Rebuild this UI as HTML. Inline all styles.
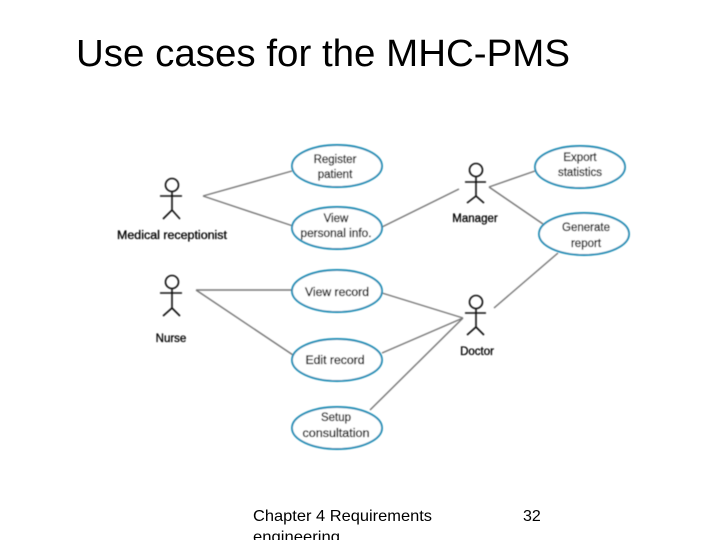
<!DOCTYPE html>
<html><head><meta charset="utf-8">
<style>html,body{margin:0;padding:0;background:#fff}svg{display:block}text{font-family:"Liberation Sans",sans-serif}</style>
</head><body>
<svg width="720" height="540" viewBox="0 0 720 540" xmlns="http://www.w3.org/2000/svg">
<defs><filter id="b" x="-5%" y="-5%" width="110%" height="110%"><feGaussianBlur stdDeviation="0.45"/></filter></defs>
<rect width="720" height="540" fill="#fff"/>
<text x="76" y="66" font-size="38" fill="#000" textLength="494" lengthAdjust="spacingAndGlyphs">Use cases for the MHC-PMS</text>
<g filter="url(#b)">
<g stroke="#777" stroke-width="1.4" fill="none">
<path d="M203 196L292 171M203 196L293 226M196 290L292 290M196 290L293 355M382 227L459 189M489 187L535 171M489 187L543 224M494 308L558 253M382 293L463 318M382 353L463 318M370 410L463 318"/>
</g>
<g stroke="#1c8db5" stroke-width="1.9" fill="#fff">
<ellipse cx="337" cy="166" rx="45" ry="21"/>
<ellipse cx="337" cy="228" rx="45" ry="21"/>
<ellipse cx="337" cy="291" rx="45" ry="21"/>
<ellipse cx="337" cy="360" rx="45" ry="21"/>
<ellipse cx="337" cy="428" rx="45" ry="21"/>
<ellipse cx="580" cy="167" rx="45" ry="21"/>
<ellipse cx="584" cy="234" rx="45" ry="21"/>
</g>
<g stroke="#111" stroke-width="1.6" fill="none">
<circle cx="172" cy="185" r="6.5"/><path d="M160 196H182M172 191.500V210M163 219L172 210L180 219"/>
<circle cx="172" cy="282" r="6.5"/><path d="M160 293H182M172 288.500V308M163 316L172 308L180 316"/>
<circle cx="476" cy="170" r="6.5"/><path d="M465 182H486M476 176.500V196M467 203L476 196L484 203"/>
<circle cx="476" cy="302" r="6.500"/><path d="M465 313H486M476 308.500V327M467 335L476 327L484 335"/>
</g>
<g font-size="11.500" fill="#000" stroke="#000" stroke-width="0.3" text-anchor="middle">
<text x="335" y="163">Register</text>
<text x="335" y="178">patient</text>
<text x="336" y="222">View</text>
<text x="336" y="237" textLength="71" lengthAdjust="spacingAndGlyphs">personal info.</text>
<text x="337" y="296" textLength="64" lengthAdjust="spacingAndGlyphs">View record</text>
<text x="335" y="364" textLength="59" lengthAdjust="spacingAndGlyphs">Edit record</text>
<text x="336" y="421">Setup</text>
<text x="336" y="437" textLength="67" lengthAdjust="spacingAndGlyphs">consultation</text>
<text x="580" y="161">Export</text>
<text x="580" y="176">statistics</text>
<text x="586" y="231">Generate</text>
<text x="586" y="247">report</text>
<text x="172" y="239" textLength="110" lengthAdjust="spacingAndGlyphs">Medical receptionist</text>
<text x="171" y="342">Nurse</text>
<text x="475" y="222">Manager</text>
<text x="477" y="355">Doctor</text>
</g>
</g>
<g font-size="16" fill="#000">
<text x="253" y="521" textLength="179" lengthAdjust="spacingAndGlyphs">Chapter 4 Requirements</text>
<text x="253" y="542" textLength="87" lengthAdjust="spacingAndGlyphs">engineering</text>
<text x="523" y="521">32</text>
</g>
</svg>
</body></html>
